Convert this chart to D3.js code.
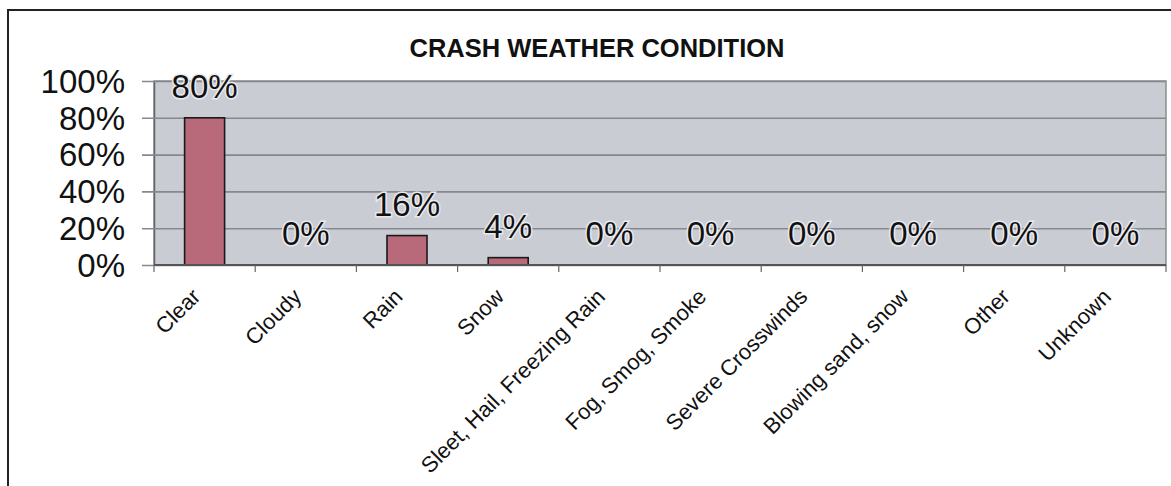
<!DOCTYPE html>
<html>
<head>
<meta charset="utf-8">
<script src="https://cdn.jsdelivr.net/npm/d3@7"></script>
<style>
  html, body { margin: 0; padding: 0; background: #ffffff; }
  svg { display: block; }
</style>
</head>
<body>
<svg id="chart" width="1171" height="486"></svg>
<script>
const title = "CRASH WEATHER CONDITION";
const categories = ["Clear", "Cloudy", "Rain", "Snow", "Sleet, Hail, Freezing Rain",
  "Fog, Smog, Smoke", "Severe Crosswinds", "Blowing sand, snow", "Other", "Unknown"];
const values = [0.80, 0.00, 0.16, 0.04, 0.00, 0.00, 0.00, 0.00, 0.00, 0.00];
const yTicks = [0, 0.2, 0.4, 0.6, 0.8, 1.0];

const svg = d3.select("#chart");
const W = 1171, H = 486;
const margin = { left: 154, right: 5, top: 81, bottom: 221 };
const plotW = W - margin.left - margin.right;
const plotH = H - margin.top - margin.bottom;

// outer frame
svg.append("rect")
  .attr("x", 8).attr("y", 10)
  .attr("width", W + 20).attr("height", H + 20)
  .attr("fill", "#ffffff").attr("stroke", "#222").attr("stroke-width", 2);

// title
svg.append("text")
  .attr("x", 597).attr("y", 57)
  .attr("text-anchor", "middle")
  .attr("font-family", "Liberation Sans, Arial, sans-serif")
  .attr("font-weight", "bold").attr("font-size", 25.5)
  .attr("fill", "#111")
  .text(title);

const g = svg.append("g").attr("transform", `translate(${margin.left},${margin.top})`);

const x = d3.scaleBand().domain(categories).range([0, plotW]).paddingInner(0).paddingOuter(0);
const y = d3.scaleLinear().domain([0, 1]).range([plotH, 0]);

// plot background
g.append("rect")
  .attr("x", 0).attr("y", 0).attr("width", plotW).attr("height", plotH)
  .attr("fill", "#c9ccd3").attr("stroke", "#8a8d92").attr("stroke-width", 1.5);

// gridlines + left ticks
const yAxis = d3.axisLeft(y).tickValues(yTicks).tickSize(-plotW).tickFormat("").tickSizeOuter(0);
const ya = g.append("g").call(yAxis);
ya.select(".domain").attr("stroke", "#666").attr("stroke-width", 1.5);
ya.selectAll(".tick line").attr("stroke", "#85888d").attr("stroke-width", 1.6)
  .attr("x1", -12);

// y labels
g.selectAll(".ylab").data(yTicks).enter().append("text")
  .attr("class", "ylab")
  .attr("x", -29).attr("y", d => y(d))
  .attr("dy", "0.36em")
  .attr("text-anchor", "end")
  .attr("font-family", "Liberation Sans, Arial, sans-serif")
  .attr("font-size", 33).attr("fill", "#111")
  .text(d => Math.round(d * 100) + "%");

// bars
const barW = 40;
g.selectAll(".bar").data(values).enter().append("rect")
  .attr("class", "bar")
  .attr("x", (d, i) => x(categories[i]) + x.bandwidth() / 2 - barW / 2)
  .attr("y", d => y(d))
  .attr("width", barW)
  .attr("height", d => plotH - y(d))
  .attr("fill", "#b8697a").attr("stroke", "#1a1a1a").attr("stroke-width", 1.6);

// x axis line and ticks
const xa = g.append("g").attr("transform", `translate(0,${plotH})`);
xa.append("line").attr("x1", 0).attr("x2", plotW).attr("y1", 0).attr("y2", 0)
  .attr("stroke", "#555").attr("stroke-width", 1.8);
const boundaries = categories.map(c => x(c)).concat([plotW]);
xa.selectAll(".xt").data(boundaries).enter().append("line")
  .attr("x1", d => d).attr("x2", d => d).attr("y1", 0).attr("y2", 7)
  .attr("stroke", "#666").attr("stroke-width", 1.2);

// x labels
xa.selectAll(".xlab").data(categories).enter().append("text")
  .attr("class", "xlab")
  .attr("transform", d => `translate(${x(d) + x.bandwidth() / 2 - 3},33) rotate(-45)`)
  .attr("text-anchor", "end")
  .attr("font-family", "Liberation Sans, Arial, sans-serif")
  .attr("font-size", 22).attr("fill", "#111")
  .text(d => d);

// data labels
g.selectAll(".dlab").data(values).enter().append("text")
  .attr("class", "dlab")
  .attr("x", (d, i) => x(categories[i]) + x.bandwidth() / 2)
  .attr("y", d => y(d) - 20)
  .attr("text-anchor", "middle")
  .attr("font-family", "Liberation Sans, Arial, sans-serif")
  .attr("font-size", 33).attr("fill", "#111")
  .attr("stroke", "#e9eaee").attr("stroke-width", 3).attr("paint-order", "stroke")
  .text(d => Math.round(d * 100) + "%");
</script>
</body>
</html>
